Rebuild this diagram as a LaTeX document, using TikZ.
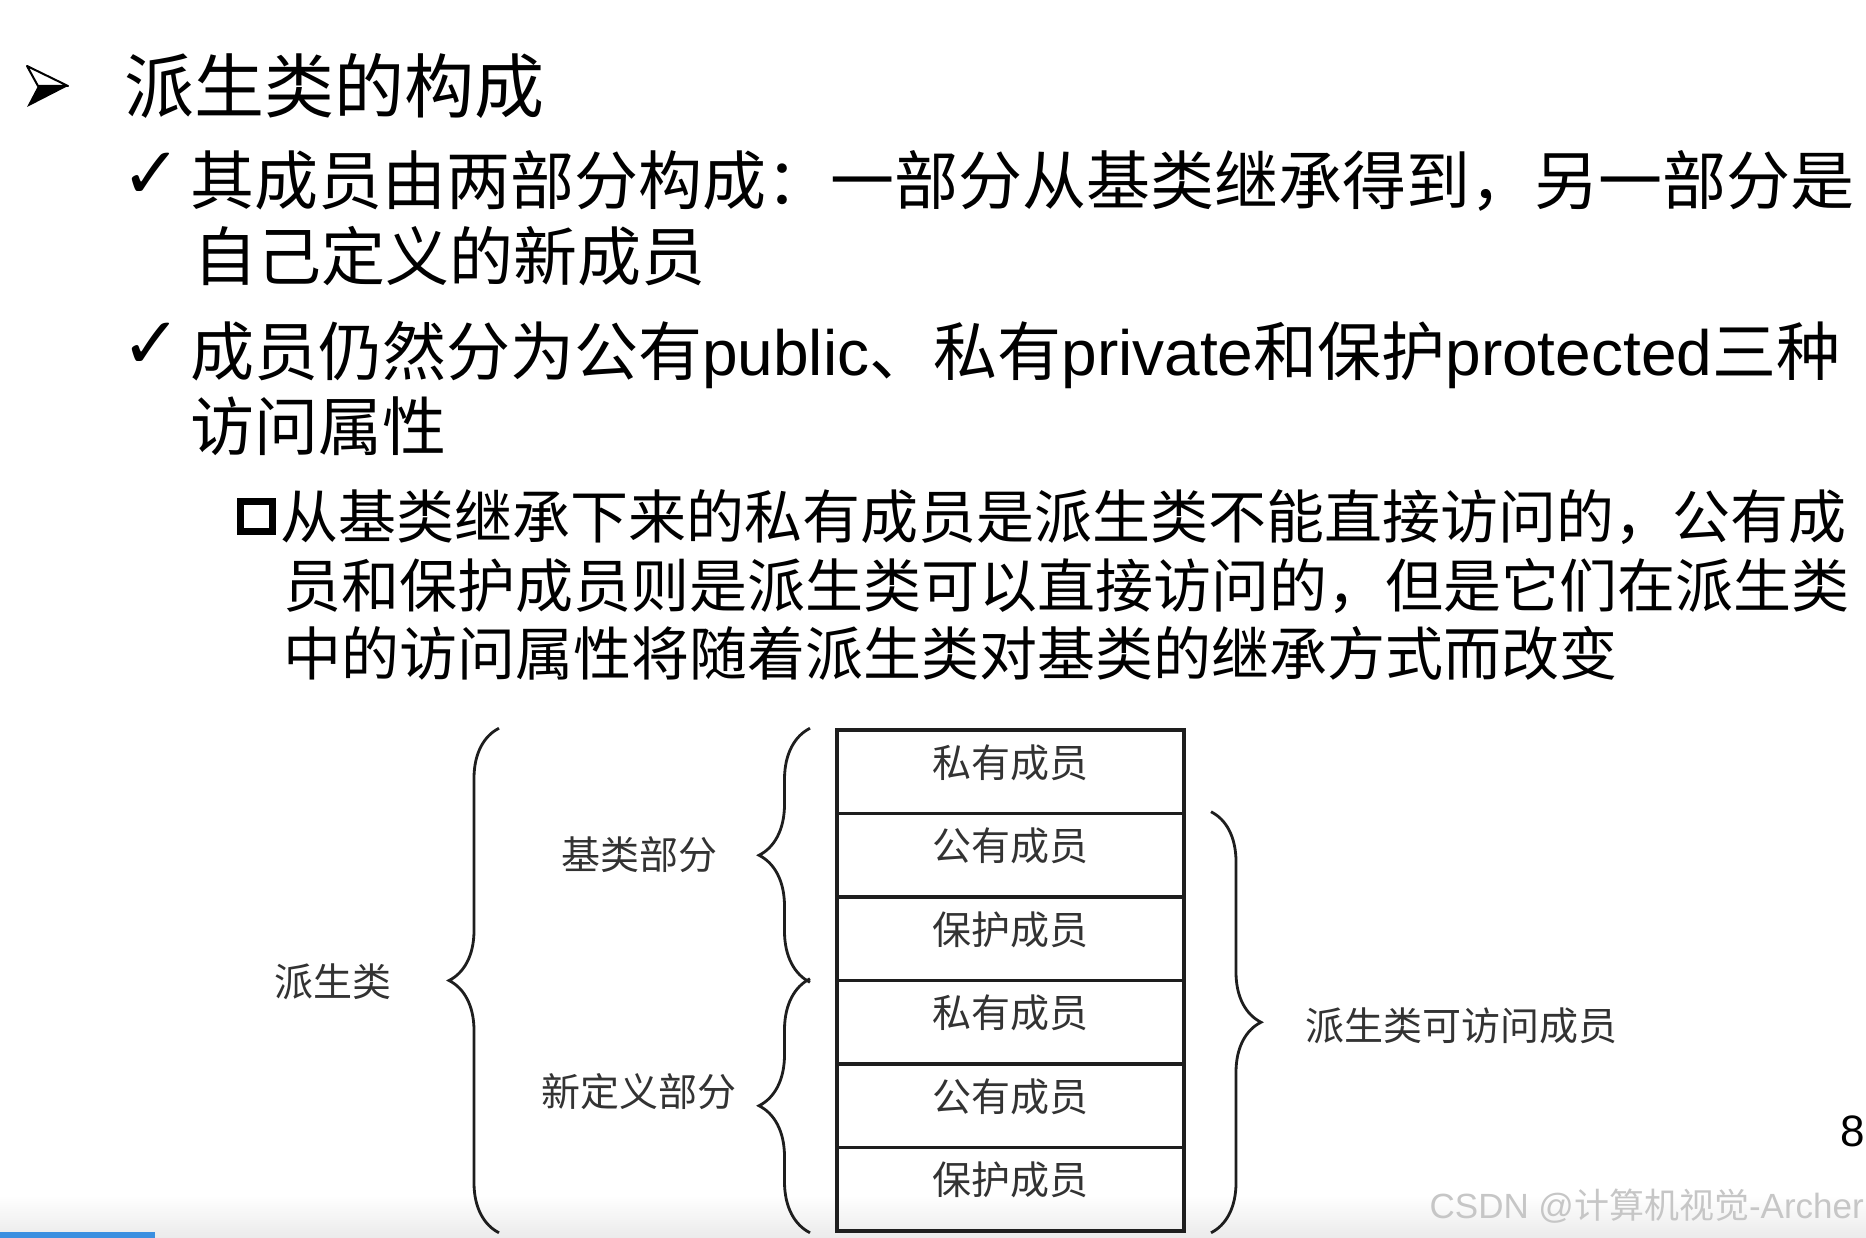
\documentclass[tikz,border=0pt]{standalone}
\usepackage{fontspec}
\setmainfont{Noto Sans CJK SC}
\newfontfamily\lat{Liberation Sans}
\newfontfamily\symf{DejaVu Sans}
\usetikzlibrary{decorations.pathreplacing}
\definecolor{diagtext}{HTML}{333333}
\definecolor{linecol}{HTML}{1E1E1E}
\definecolor{wmgray}{HTML}{C6C6C6}
\definecolor{barblue}{HTML}{3B8FE0}
\begin{document}
\begin{tikzpicture}[x=1pt,y=-1pt,
  titletext/.style={anchor=base west, inner sep=0, font=\fontsize{70}{84}\selectfont},
  bullettext/.style={anchor=base west, inner sep=0, font=\fontsize{64}{77}\selectfont},
  subtext/.style={anchor=base west, inner sep=0, font=\fontsize{58}{70}\selectfont},
  checkmark/.style={inner sep=0, font=\symf\fontsize{72}{80}\selectfont},
  cell/.style={draw=linecol, line width=3.5pt, minimum width=347pt, minimum height=83.5pt, inner sep=0},
  celltext/.style={inner sep=0, text=diagtext, font=\fontsize{39}{47}\selectfont},
  curly/.style={draw=linecol, line width=2.8pt, decorate, decoration={brace, amplitude=#1}},
]
\useasboundingbox (0,0) rectangle (1866,1238);
\fill[white] (0,0) rectangle (1866,1238);
\shade[top color=white, bottom color=black!8] (0,1195) rectangle (1866,1238);
\fill[barblue] (0,1232) rectangle (155,1238);

% title bullet
\filldraw[fill=white, draw=black, line width=2pt, line join=round] (27,66) -- (68,86) -- (38,86) -- cycle;
\fill[black] (38,86) -- (68,86) -- (27,107) -- cycle;
\node[titletext] (title) at (124,113) {派生类的构成};

% bullet 1
\node[checkmark] (ck1) at (152,176) {✓};
\node[bullettext] (l1a) at (190,205) {其成员由两部分构成：一部分从基类继承得到，另一部分是};
\node[bullettext] (l1b) at (193,281) {自己定义的新成员};

% bullet 2
\node[checkmark] (ck2) at (152,346) {✓};
\node[bullettext] (l2a) at (190,376) {成员仍然分为公有{\lat public}、私有{\lat private}和保护{\lat protected}三种};
\node[bullettext] (l2b) at (190,450) {访问属性};

% sub bullet
\draw[line width=7pt] (240,501) rectangle (272,531);
\node[subtext] (s1) at (280,538) {从基类继承下来的私有成员是派生类不能直接访问的，公有成};
\node[subtext] (s2) at (283,607) {员和保护成员则是派生类可以直接访问的，但是它们在派生类};
\node[subtext] (s3) at (283,675) {中的访问属性将随着派生类对基类的继承方式而改变};

% table
\node[cell] (r1) at (1010.5,771.75) {};
\node[cell] (r2) at (1010.5,855.25) {};
\node[cell] (r3) at (1010.5,938.75) {};
\node[cell] (r4) at (1010.5,1022.25) {};
\node[cell] (r5) at (1010.5,1105.75) {};
\node[cell] (r6) at (1010.5,1189.25) {};
\node[celltext] (t1) at ([yshift=9pt]r1.center) {私有成员};
\node[celltext] (t2) at ([yshift=9pt]r2.center) {公有成员};
\node[celltext] (t3) at ([yshift=9pt]r3.center) {保护成员};
\node[celltext] (t4) at ([yshift=9pt]r4.center) {私有成员};
\node[celltext] (t5) at ([yshift=9pt]r5.center) {公有成员};
\node[celltext] (t6) at ([yshift=9pt]r6.center) {保护成员};

% brace x positions
\coordinate (bigx) at (499,0);
\coordinate (midx) at (810,0);
\coordinate (rgtx) at (1211,0);

\draw[curly=50pt] (bigx |- r6.south) -- (bigx |- r1.north);
\draw[curly=51pt] (midx |- r3.south) -- (midx |- r1.north);
\draw[curly=51pt] (midx |- r6.south) -- (midx |- r4.north);
\draw[curly=50pt] (rgtx |- r2.north) -- (rgtx |- r6.south);

% labels
\node[celltext] (lpai) at (333,982) {派生类};
\node[celltext] (lbase) at (639,855) {基类部分};
\node[celltext] (lnew) at (639,1092) {新定义部分};
\node[celltext, anchor=west] (lacc) at (1305,1026) {派生类可访问成员};

% page number and watermark
\node[inner sep=0, font=\lat\fontsize{44}{50}\selectfont] (pg) at (1853,1131) {8};
\node[inner sep=0, anchor=base east, text=wmgray, font=\fontsize{35}{42}\selectfont] (wm) at (1864,1218) {{\lat CSDN @}计算机视觉{\lat -Archer}};
\end{tikzpicture}
\end{document}
